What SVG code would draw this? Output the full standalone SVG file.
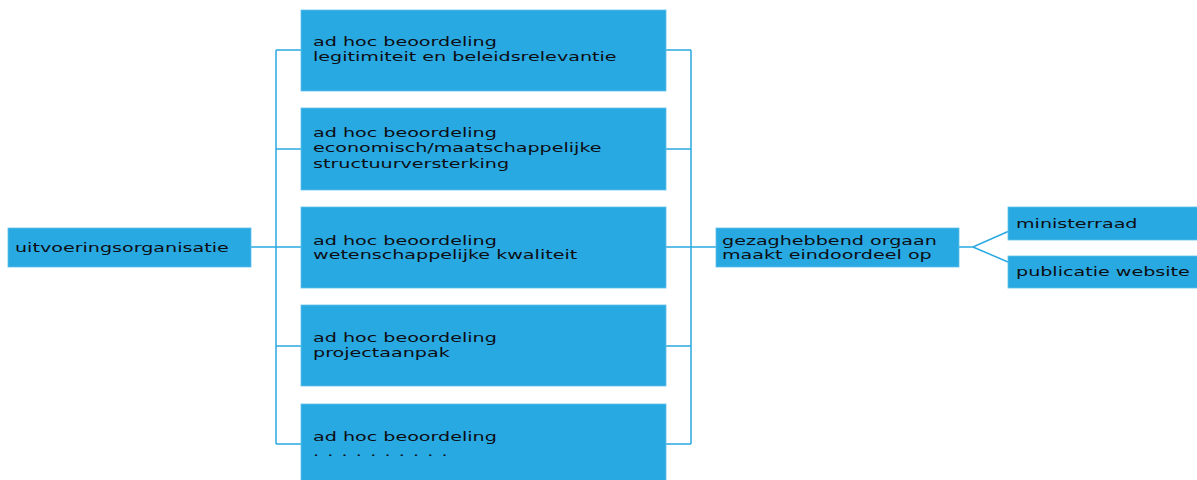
<svg xmlns="http://www.w3.org/2000/svg" width="1197" height="480" viewBox="0 0 1197 480">
<style>
.box{fill:#29a9e1;stroke:#5fc0ea;stroke-width:0.8}
.lbl{font-family:"DejaVu Sans",Verdana,sans-serif;font-size:12.5px;fill:#0d0d14}
.con{fill:none;stroke:#29a9e1;stroke-width:1.5}
</style>
<rect width="1197" height="480" fill="#ffffff"/>
<g id="connectors" class="con">
<line x1="251" y1="247" x2="276" y2="247"/>
<line x1="276" y1="50" x2="276" y2="444"/>
<line x1="276" y1="50" x2="301" y2="50"/>
<line x1="276" y1="149" x2="301" y2="149"/>
<line x1="276" y1="247" x2="301" y2="247"/>
<line x1="276" y1="346" x2="301" y2="346"/>
<line x1="276" y1="444" x2="301" y2="444"/>
<line x1="691" y1="50" x2="691" y2="444"/>
<line x1="666" y1="50" x2="691" y2="50"/>
<line x1="666" y1="149" x2="691" y2="149"/>
<line x1="666" y1="247" x2="716" y2="247"/>
<line x1="666" y1="346" x2="691" y2="346"/>
<line x1="666" y1="444" x2="691" y2="444"/>
<polyline points="959,247 973,247 1008,231.5"/>
<line x1="973" y1="247" x2="1008" y2="262"/>
</g>
<g id="node-uitvoering">
<rect class="box" x="8" y="228" width="243" height="39"/>
<text class="lbl" transform="translate(15 251.5) scale(1.53 1)">uitvoeringsorganisatie</text>
</g>
<g id="node-legitimiteit">
<rect class="box" x="301" y="10" width="365" height="81"/>
<text class="lbl" transform="translate(313 46) scale(1.53 1)"><tspan x="0" y="0">ad hoc beoordeling</tspan><tspan x="0" y="15.5">legitimiteit en beleidsrelevantie</tspan></text>
</g>
<g id="node-economisch">
<rect class="box" x="301" y="108" width="365" height="82"/>
<text class="lbl" transform="translate(313 137) scale(1.53 1)"><tspan x="0" y="0">ad hoc beoordeling</tspan><tspan x="0" y="15.3">economisch/maatschappelijke</tspan><tspan x="0" y="30.6">structuurversterking</tspan></text>
</g>
<g id="node-wetenschappelijk">
<rect class="box" x="301" y="207" width="365" height="81"/>
<text class="lbl" transform="translate(313 244.5) scale(1.53 1)"><tspan x="0" y="0">ad hoc beoordeling</tspan><tspan x="0" y="14.8">wetenschappelijke kwaliteit</tspan></text>
</g>
<g id="node-projectaanpak">
<rect class="box" x="301" y="305" width="365" height="81"/>
<text class="lbl" transform="translate(313 342) scale(1.53 1)"><tspan x="0" y="0">ad hoc beoordeling</tspan><tspan x="0" y="14.8">projectaanpak</tspan></text>
</g>
<g id="node-overig">
<rect class="box" x="301" y="404" width="365" height="82"/>
<text class="lbl" transform="translate(313 441) scale(1.53 1)"><tspan x="0" y="0">ad hoc beoordeling</tspan><tspan x="0" y="14.6" letter-spacing="0.7">. . . . . . . . . .</tspan></text>
</g>
<g id="node-gezag">
<rect class="box" x="716" y="228" width="243" height="39"/>
<text class="lbl" transform="translate(722 245) scale(1.53 1)"><tspan x="0" y="0">gezaghebbend orgaan</tspan><tspan x="0" y="14">maakt eindoordeel op</tspan></text>
</g>
<g id="node-ministerraad">
<rect class="box" x="1008" y="207" width="195" height="33"/>
<text class="lbl" transform="translate(1016 228) scale(1.53 1)">ministerraad</text>
</g>
<g id="node-publicatie">
<rect class="box" x="1008" y="256" width="195" height="32"/>
<text class="lbl" transform="translate(1016 276) scale(1.53 1)">publicatie website</text>
</g>
</svg>
